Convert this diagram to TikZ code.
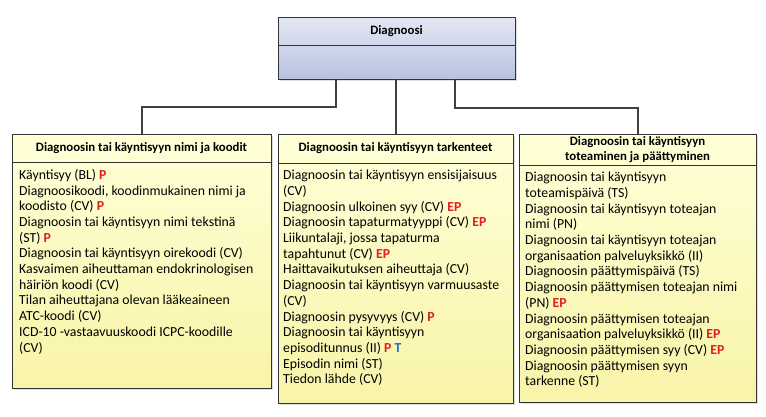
\documentclass[tikz,border=0pt]{standalone}
\usepackage{fontspec}
\setmainfont{Carlito}
\usetikzlibrary{shadows}
\definecolor{ep}{HTML}{E02020}
\definecolor{tb}{HTML}{2070D0}
\definecolor{ytop}{HTML}{FFFFD8}
\definecolor{ybot}{HTML}{F8F4A8}
\definecolor{btop}{HTML}{E4E8F4}
\definecolor{bbot}{HTML}{B8C2E0}
\newcommand{\Pp}{\textcolor{ep}{\textbf{P}}}
\newcommand{\EP}{\textcolor{ep}{\textbf{EP}}}
\newcommand{\Tt}{\textcolor{tb}{\textbf{T}}}
\tikzset{
  ybox/.style={draw=black!80, line width=0.8pt, top color=ytop, bottom color=ybot, drop shadow={opacity=0.25,shadow xshift=2pt,shadow yshift=-2pt}},
  bbox/.style={draw=black!80, line width=0.8pt, top color=btop, bottom color=bbot, drop shadow={opacity=0.25,shadow xshift=2pt,shadow yshift=-2pt}},
  conn/.style={draw=black!75, line width=1.6pt},
  hdr/.style={font=\fontsize{12.8}{15}\selectfont\bfseries, align=center},
  body/.style={font=\fontsize{13.8}{15.7}\selectfont, align=left, anchor=north west, inner sep=0pt}
}
\begin{document}
\begin{tikzpicture}[x=1pt,y=-1pt]
\useasboundingbox (0,0) rectangle (766,416);
\path[bbox] (278,17) rectangle (515,79);
\draw[black!80, line width=0.8pt] (278,45) -- (515,45);
\node[hdr] (top) at (396.5,31) {Diagnoosi};
\path[ybox] (12,134) rectangle (271,388);
\draw[black!80, line width=0.8pt] (12,162) -- (271,162);
\path[ybox] (278,134) rectangle (513,403);
\draw[black!80, line width=0.8pt] (278,163) -- (513,163);
\path[ybox] (519,134) rectangle (756,402);
\draw[black!80, line width=0.8pt] (519,165) -- (756,165);
\node[hdr] (h1) at (141.5,148) {Diagnoosin tai käyntisyyn nimi ja koodit};
\node[hdr] (h2) at (395.5,148.5) {Diagnoosin tai käyntisyyn tarkenteet};
\node[hdr] (h3) at (637.5,149.5) {Diagnoosin tai käyntisyyn\\toteaminen ja päättyminen};
\coordinate (c1) at (142,134);
\coordinate (c2) at (396,134);
\coordinate (c3) at (638,134);
\coordinate (s1) at (336,79);
\coordinate (s2) at (396,79);
\coordinate (s3) at (455,79);
\draw[conn] (s1) -- (336,107) -| (c1);
\draw[conn] (s2) -- (c2);
\draw[conn] (s3) -- (455,108) -| (c3);
\node[body] (b1) at (19,169) {Käyntisyy (BL) \Pp\\
Diagnoosikoodi, koodinmukainen nimi ja\\
koodisto (CV) \Pp\\
Diagnoosin tai käyntisyyn nimi tekstinä\\
(ST) \Pp\\
Diagnoosin tai käyntisyyn oirekoodi (CV)\\
Kasvaimen aiheuttaman endokrinologisen\\
häiriön koodi (CV)\\
Tilan aiheuttajana olevan lääkeaineen\\
ATC-koodi (CV)\\
ICD-10 -vastaavuuskoodi ICPC-koodille\\
(CV)};
\node[body] (b2) at (283,170) {Diagnoosin tai käyntisyyn ensisijaisuus\\
(CV)\\
Diagnoosin ulkoinen syy (CV) \EP\\
Diagnoosin tapaturmatyyppi (CV) \EP\\
Liikuntalaji, jossa tapaturma\\
tapahtunut (CV) \EP\\
Haittavaikutuksen aiheuttaja (CV)\\
Diagnoosin tai käyntisyyn varmuusaste\\
(CV)\\
Diagnoosin pysyvyys (CV) \Pp\\
Diagnoosin tai käyntisyyn\\
episoditunnus (II) \Pp{} \Tt\\
Episodin nimi (ST)\\
Tiedon lähde (CV)};
\node[body] (b3) at (525,172) {Diagnoosin tai käyntisyyn\\
toteamispäivä (TS)\\
Diagnoosin tai käyntisyyn toteajan\\
nimi (PN)\\
Diagnoosin tai käyntisyyn toteajan\\
organisaation palveluyksikkö (II)\\
Diagnoosin päättymispäivä (TS)\\
Diagnoosin päättymisen toteajan nimi\\
(PN) \EP\\
Diagnoosin päättymisen toteajan\\
organisaation palveluyksikkö (II) \EP\\
Diagnoosin päättymisen syy (CV) \EP\\
Diagnoosin päättymisen syyn\\
tarkenne (ST)};
\end{tikzpicture}
\end{document}
